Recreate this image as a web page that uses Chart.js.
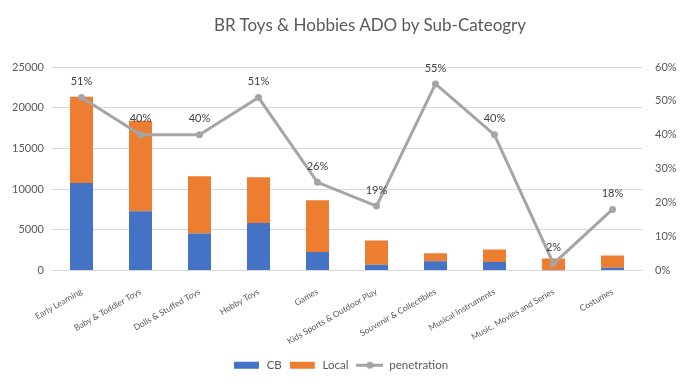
<!DOCTYPE html>
<html>
<head>
<meta charset="utf-8">
<script src="https://cdn.jsdelivr.net/npm/chart.js@4"></script>
<style>
  html, body { margin: 0; padding: 0; background: #fff; }
  #wrap { position: relative; width: 682px; height: 386px; }
  #title {
    position: absolute; left: 370px; top: 14px; transform: translateX(-50%);
    font: 17px Lato, sans-serif; color: #595959; white-space: nowrap;
  }
</style>
</head>
<body>
<div id="wrap">
  <canvas id="chart" width="682" height="386"></canvas>
  <div id="title">BR Toys &amp; Hobbies ADO by Sub-Cateogry</div>
</div>
<script>
// Data
const categories = ['Early Learning', 'Baby & Toddler Toys', 'Dolls & Stuffed Toys', 'Hobby Toys', 'Games',
                    'Kids Sports & Outdoor Play', 'Souvenir & Collectibles', 'Musical Instruments',
                    'Music, Movies and Series', 'Costumes'];
const cbValues = [10750, 7270, 4560, 5830, 2260, 700, 1150, 1040, 30, 330];
const localValues = [10590, 11120, 7020, 5620, 6360, 2990, 980, 1550, 1450, 1520];
const penetration = [51, 40, 40, 51, 26, 19, 55, 40, 2, 18];

const leftTicks = [0, 5000, 10000, 15000, 20000, 25000];
const rightTicks = [0, 10, 20, 30, 40, 50, 60];

const BLUE = '#4472c4', ORANGE = '#ed7d31', GREY = '#a5a5a5', TEXT = '#595959';

// Legend swatches
function swatch(color, withMarker) {
    const c = document.createElement('canvas');
    c.width = 27; c.height = 9;
    const g = c.getContext('2d');
    if (withMarker) {
        g.strokeStyle = color; g.lineWidth = 3;
        g.beginPath(); g.moveTo(0, 4.5); g.lineTo(27, 4.5); g.stroke();
        g.fillStyle = color;
        g.beginPath(); g.arc(13.5, 4.5, 3.5, 0, Math.PI * 2); g.fill();
    } else {
        g.fillStyle = color;
        g.fillRect(0, 1, 25, 7);
    }
    return c;
}
const legendStyles = [swatch(BLUE), swatch(ORANGE), swatch(GREY, true)];

// Percent labels above line points
const pointLabels = {
    id: 'pointLabels',
    afterDatasetsDraw(chart) {
        const meta = chart.getDatasetMeta(2);
        const ctx = chart.ctx;
        ctx.save();
        ctx.font = '11px Lato, sans-serif';
        ctx.fillStyle = '#404040';
        ctx.textAlign = 'center';
        ctx.textBaseline = 'middle';
        meta.data.forEach((pt, i) => {
            ctx.fillText(penetration[i] + '%', pt.x, pt.y - 16);
        });
        ctx.restore();
    }
};

new Chart(document.getElementById('chart'), {
    data: {
        labels: categories,
        datasets: [{
            type: 'bar', label: 'CB', data: cbValues,
            backgroundColor: BLUE, yAxisID: 'y', order: 1,
            barPercentage: 1, categoryPercentage: 0.39,
        }, {
            type: 'bar', label: 'Local', data: localValues,
            backgroundColor: ORANGE, yAxisID: 'y', order: 1,
            barPercentage: 1, categoryPercentage: 0.39,
        }, {
            type: 'line', label: 'penetration', data: penetration,
            borderColor: GREY, backgroundColor: GREY, borderWidth: 3,
            pointRadius: 3.5, pointBackgroundColor: GREY, pointBorderWidth: 0,
            yAxisID: 'y1', order: 0, tension: 0,
        }]
    },
    options: {
        responsive: false,
        animation: false,
        devicePixelRatio: 1,
        layout: { padding: { top: 67, left: 0, right: 0, bottom: 5 } },
        plugins: {
            title: { display: false },
            tooltip: { enabled: false },
            legend: {
                position: 'bottom',
                labels: {
                    usePointStyle: true,
                    pointStyleWidth: 27,
                    boxHeight: 9,
                    color: TEXT,
                    font: { family: 'Lato', size: 11.5 },
                    padding: 8,
                    sort: (a, b) => a.datasetIndex - b.datasetIndex,
                    generateLabels(chart) {
                        const items = Chart.defaults.plugins.legend.labels.generateLabels(chart);
                        items.forEach(it => { it.pointStyle = legendStyles[it.datasetIndex]; });
                        return items;
                    }
                }
            }
        },
        scales: {
            x: {
                stacked: true,
                grid: { display: false },
                border: { color: '#d9d9d9' },
                ticks: {
                    color: TEXT, font: { family: 'Lato', size: 8.5 },
                    maxRotation: 30, minRotation: 30, autoSkip: false, padding: 8,
                },
                afterFit: a => { a.height = 81; }
            },
            y: {
                stacked: true,
                position: 'left',
                min: 0, max: 25000,
                afterBuildTicks: a => { a.ticks = leftTicks.map(v => ({ value: v })); },
                grid: { color: '#d9d9d9', drawTicks: false },
                border: { display: false },
                ticks: { color: TEXT, font: { family: 'Lato', size: 11 }, padding: 8,
                         callback: v => String(v) },
                afterFit: a => { a.width = 52; }
            },
            y1: {
                position: 'right',
                min: 0, max: 60,
                afterBuildTicks: a => { a.ticks = rightTicks.map(v => ({ value: v })); },
                grid: { display: false, drawTicks: false },
                border: { display: false },
                ticks: { color: TEXT, font: { family: 'Lato', size: 11 }, padding: 13,
                         callback: v => v + '%' },
                afterFit: a => { a.width = 40; }
            }
        }
    },
    plugins: [pointLabels]
});
</script>
</body>
</html>
